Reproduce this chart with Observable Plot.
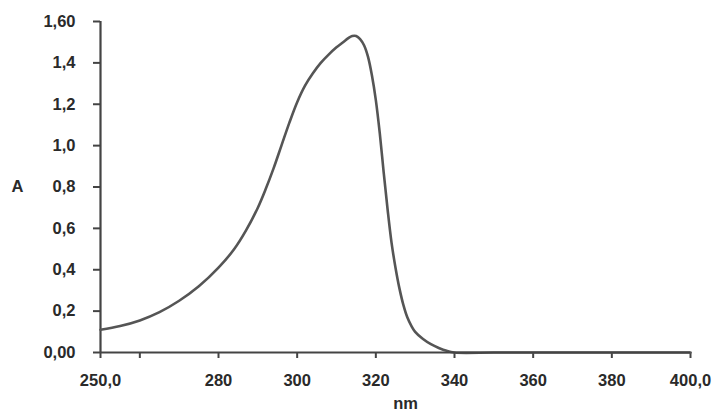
<!DOCTYPE html>
<html>
<head>
<meta charset="utf-8">
<script src="https://cdn.jsdelivr.net/npm/d3@7"></script>
<script src="https://cdn.jsdelivr.net/npm/@observablehq/plot@0.6"></script>
<style>
  html, body { margin: 0; padding: 0; background: #fff; }
  #chart svg { display: block; }
</style>
</head>
<body>
<div id="chart"></div>
<script>
// Absorption spectrum
const wavelength = [250, 255, 260, 265, 270, 275, 280, 284, 287, 290, 292, 294, 296, 298, 300, 302, 304, 306, 308, 310, 312, 313, 314, 315, 316, 317, 318, 319, 320, 321, 322, 323, 324, 325, 326, 327, 328, 329, 330, 332, 334, 336, 338, 340, 350, 360, 370, 380, 390, 400];
const absorbance = [0.110, 0.128, 0.155, 0.195, 0.250, 0.320, 0.410, 0.500, 0.590, 0.700, 0.790, 0.890, 1.000, 1.110, 1.210, 1.290, 1.350, 1.400, 1.440, 1.475, 1.505, 1.520, 1.530, 1.530, 1.515, 1.485, 1.430, 1.340, 1.220, 1.060, 0.870, 0.690, 0.530, 0.410, 0.310, 0.230, 0.170, 0.130, 0.100, 0.065, 0.040, 0.022, 0.008, 0, 0, 0, 0, 0, 0, 0];

const xTicks = [250, 260, 280, 300, 320, 340, 360, 380, 400];
const xTickLabels = ["250,0", "", "280", "300", "320", "340", "360", "380", "400,0"];
const yTicks = [0, 0.2, 0.4, 0.6, 0.8, 1.0, 1.2, 1.4, 1.6];
const yTickLabels = ["0,00", "0,2", "0,4", "0,6", "0,8", "1,0", "1,2", "1,4", "1,60"];
const xTitle = "nm";
const yTitle = "A";

const data = wavelength.map((w, i) => ({w, a: absorbance[i]}));
const axisColor = "#444";
const textColor = "#2a2a2a";
const fs = 16.5;

const chart = Plot.plot({
  width: 717,
  height: 416,
  marginLeft: 100,
  marginRight: 27,
  marginTop: 21,
  marginBottom: 64,
  style: {fontFamily: "'Liberation Sans', Arial, sans-serif", fontSize: fs + "px", fontWeight: "bold", color: textColor, background: "#fff"},
  x: {domain: [250, 400]},
  y: {domain: [0, 1.6]},
  marks: [
    Plot.axisX(xTicks, {
      tickFormat: (d) => xTickLabels[xTicks.indexOf(d)],
      tickSize: 6, tickPadding: 16, stroke: axisColor, strokeWidth: 2,
      fill: textColor, label: null, fontSize: fs
    }),
    Plot.axisY(yTicks, {
      tickFormat: (d) => yTickLabels[yTicks.indexOf(d)],
      tickSize: 7, tickPadding: 18, stroke: axisColor, strokeWidth: 2,
      fill: textColor, label: null, fontSize: fs
    }),
    Plot.ruleX([250], {stroke: axisColor, strokeWidth: 2.2}),
    Plot.line(data, {x: "w", y: "a", curve: "catmull-rom", stroke: "#555", strokeWidth: 2.6}),
    Plot.ruleY([0], {stroke: axisColor, strokeWidth: 2.2}),
    Plot.text([yTitle], {frameAnchor: "left", dx: -83, textAnchor: "middle", fill: textColor, fontSize: fs, fontWeight: "bold"}),
    Plot.text([xTitle], {frameAnchor: "bottom", dx: 10, dy: 56, textAnchor: "middle", fill: textColor, fontSize: fs, fontWeight: "bold"})
  ]
});
document.getElementById("chart").appendChild(chart);
</script>
</body>
</html>
